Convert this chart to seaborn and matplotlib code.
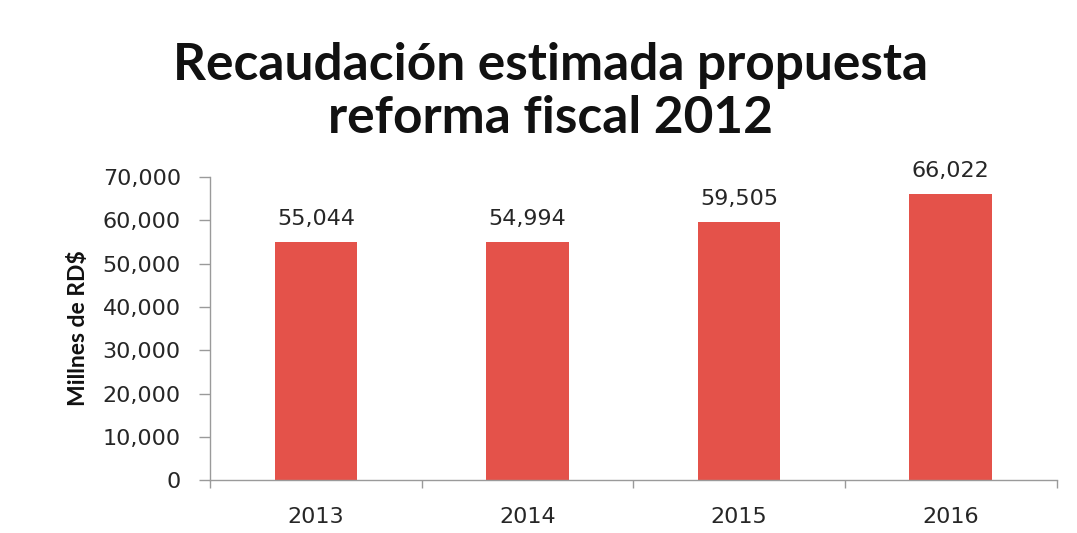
import matplotlib
matplotlib.use("Agg")
import matplotlib.pyplot as plt
import seaborn as sns
import pandas as pd

# Estimated revenue from the proposed 2012 fiscal reform (millions RD$)
years = ["2013", "2014", "2015", "2016"]
revenue = [55044, 54994, 59505, 66022]
value_labels = ["55,044", "54,994", "59,505", "66,022"]
y_ticks = [0, 10000, 20000, 30000, 40000, 50000, 60000, 70000]
y_tick_labels = ["0", "10,000", "20,000", "30,000", "40,000", "50,000", "60,000", "70,000"]

sns.set_theme(style="white")
plt.rcParams["font.family"] = ["DejaVu Sans"]

df = pd.DataFrame({"year": years, "revenue": revenue})

fig = plt.figure(figsize=(10.77, 5.33), dpi=100)
ax = fig.add_axes([0.195, 0.099, 0.786, 0.569])

sns.barplot(data=df, x="year", y="revenue", color="#E4524A", saturation=1,
            width=0.39, ax=ax, edgecolor="none")

ax.set_xlim(-0.5, len(years) - 0.5)
ax.set_ylim(0, 70000)

grey = "#9a9a9a"
text_col = "#262626"
tick_fs = 16

ax.set_yticks(y_ticks)
ax.set_yticklabels(y_tick_labels)
ax.tick_params(axis="y", which="major", length=8, width=1, color=grey,
               direction="out", left=True, pad=13, labelsize=tick_fs,
               labelcolor=text_col)

# category labels on minor ticks, boundary marks on major ticks
ax.set_xticks([i for i in range(len(years))], minor=True)
ax.set_xticklabels(years, minor=True)
ax.set_xticks([i - 0.5 for i in range(len(years) + 1)])
ax.set_xticklabels([""] * (len(years) + 1))
ax.tick_params(axis="x", which="major", length=6, width=1, color=grey,
               direction="out", bottom=True)
ax.tick_params(axis="x", which="minor", length=0, pad=19,
               labelsize=tick_fs, labelcolor=text_col)

for side in ["top", "right"]:
    ax.spines[side].set_visible(False)
for side in ["left", "bottom"]:
    ax.spines[side].set_color(grey)
    ax.spines[side].set_linewidth(1)

ax.set_xlabel("")
ax.set_ylabel("Millnes de RD$", fontsize=16.5, fontweight="bold",
              family=["Lato", "DejaVu Sans"], labelpad=10, color="#111111")

for i, (v, lab) in enumerate(zip(revenue, value_labels)):
    ax.text(i, v + 3000, lab, ha="center", va="bottom", fontsize=tick_fs,
            color=text_col)

fig.text(0.511, 0.827, "Recaudación estimada propuesta\nreforma fiscal 2012",
         ha="center", va="center", fontsize=37, fontweight="bold",
         family=["Lato", "DejaVu Sans"], linespacing=1.15, color="#111111")

fig.savefig("out.png", dpi=100, facecolor="white")
